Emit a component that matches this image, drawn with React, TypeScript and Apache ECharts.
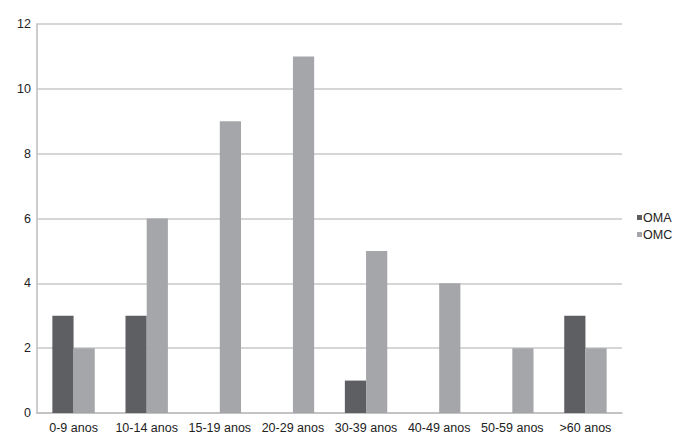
import React, { useEffect, useRef } from "react";
import * as echarts from "echarts";

const categories = ["0-9 anos", "10-14 anos", "15-19 anos", "20-29 anos", "30-39 anos", "40-49 anos", "50-59 anos", ">60 anos"];
const omaValues = [3, 3, 0, 0, 1, 0, 0, 3];
const omcValues = [2, 6, 9, 11, 5, 4, 2, 2];

export default function App() {
  const ref = useRef<HTMLDivElement>(null);
  useEffect(() => {
    const chart = echarts.init(ref.current!, null, { renderer: "svg" });
    const font = "Liberation Sans, Arial, sans-serif";
    chart.setOption({
      animation: false,
      textStyle: { fontFamily: font },
      grid: { left: 37, right: 78, top: 24, bottom: 27, containLabel: false },
      legend: {
        orient: "vertical",
        left: 632,
        top: 206,
        itemWidth: 5,
        itemHeight: 5,
        itemGap: 4,
        icon: "rect",
        textStyle: { fontSize: 12.5, color: "#222", fontFamily: font, padding: [0, 0, 0, -4] },
        data: ["OMA", "OMC"],
      },
      xAxis: {
        type: "category",
        data: categories,
        axisLine: { show: true, lineStyle: { color: "#bdbdbd", width: 1.5 } },
        axisTick: { show: false },
        axisLabel: { color: "#222", fontSize: 12.5, margin: 8, interval: 0 },
      },
      yAxis: {
        type: "value",
        min: 0,
        max: 12,
        interval: 2,
        axisLine: { show: true, lineStyle: { color: "#bdbdbd", width: 1.5 } },
        axisTick: { show: false },
        axisLabel: { color: "#222", fontSize: 12.5, margin: 6 },
        splitLine: { show: true, lineStyle: { color: "#c8c8c8", width: 1.5 } },
      },
      series: [
        {
          name: "OMA",
          type: "bar",
          data: omaValues,
          barGap: "0%",
          barCategoryGap: "42%",
          itemStyle: { color: "#5e5f63" },
        },
        {
          name: "OMC",
          type: "bar",
          data: omcValues,
          barGap: "0%",
          barCategoryGap: "42%",
          itemStyle: { color: "#a5a6a9" },
        },
      ],
    });
    return () => chart.dispose();
  }, []);
  return <div ref={ref} style={{ width: 700, height: 440, position: "absolute", left: 0, top: 0 }} />;
}
